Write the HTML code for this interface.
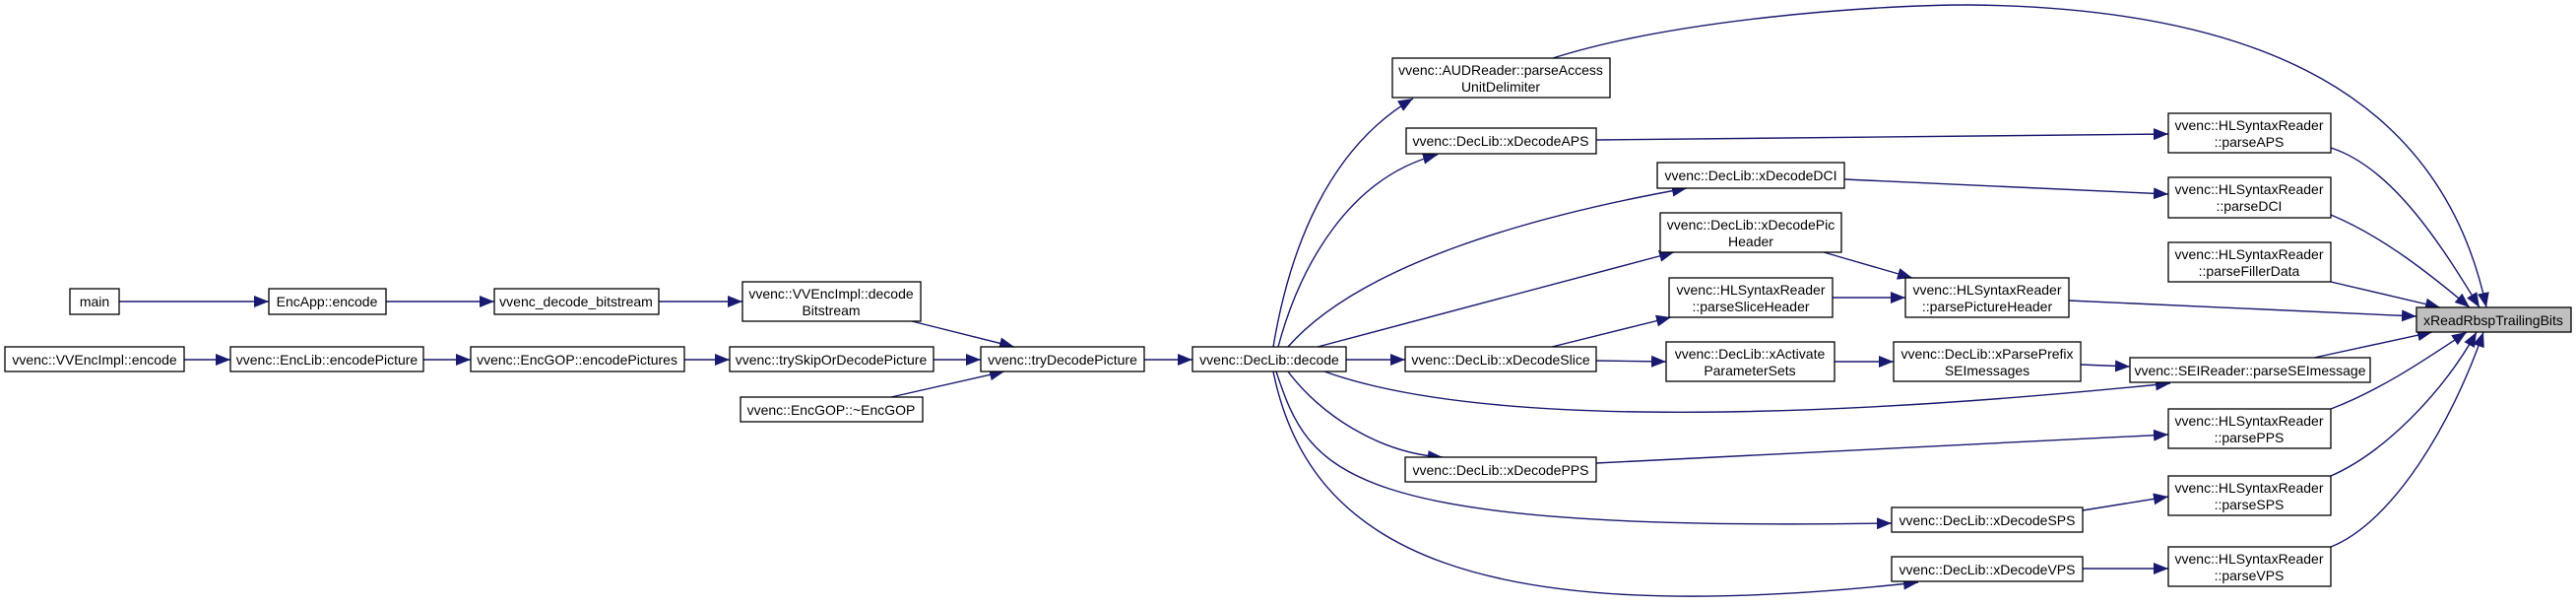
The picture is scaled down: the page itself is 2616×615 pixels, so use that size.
<!DOCTYPE html>
<html><head><meta charset="utf-8"><style>
html,body{margin:0;padding:0;background:#fff;}
svg{display:block;}
text{font-family:"Liberation Sans",Arial,sans-serif;font-size:14px;fill:#000;}
.b{fill:#fff;stroke:#000;stroke-width:1.3;}
.e{fill:none;stroke:#191970;stroke-width:1.4;}
</style></head><body>
<svg width="2616" height="615" viewBox="0 0 2616 615" xmlns="http://www.w3.org/2000/svg">
<defs>
<marker id="a" markerUnits="userSpaceOnUse" markerWidth="16" markerHeight="12" refX="15" refY="6" orient="auto">
<path d="M0,0 L15,6 L0,12 Z" fill="#191970"/>
</marker>
</defs>
<g class="e" marker-end="url(#a)">
<path d="M121,306 L273,306"/>
<path d="M392,306 L502,306"/>
<path d="M669,306 L754,306"/>
<path d="M187,365 L234,365"/>
<path d="M430,365 L478,365"/>
<path d="M695,365 L741,365"/>
<path d="M926,326 L1030,352"/>
<path d="M948,365 L996,365"/>
<path d="M905,403 L1020,377"/>
<path d="M1162,365 L1211,365"/>
<path d="M1367,365 L1427,365"/>
<path d="M1293,352 C1310,250 1350,150 1435,100"/>
<path d="M1298,352 C1320,270 1370,180 1460,157"/>
<path d="M1308,352 C1380,270 1550,220 1713,191"/>
<path d="M1338,352 L1700,256"/>
<path d="M1345,377 C1520,440 1900,420 2204,389"/>
<path d="M1308,377 C1340,420 1400,460 1465,464"/>
<path d="M1296,377 C1330,480 1360,540 1921,531"/>
<path d="M1293,377 C1330,560 1500,640 1948,591"/>
<path d="M1576,352 L1697,322"/>
<path d="M1621,366 L1692,367"/>
<path d="M1863,367 L1923,367"/>
<path d="M2113,370 L2163,372"/>
<path d="M1577,59 C1700,20 1900,5 2000,5 C2300,8 2480,100 2525,312"/>
<path d="M1621,142 L2202,136"/>
<path d="M1873,182 L2202,197"/>
<path d="M1852,256 L1942,282"/>
<path d="M1861,302 L1935,302"/>
<path d="M2101,305 L2454,321"/>
<path d="M2367,150 C2430,170 2480,250 2518,312"/>
<path d="M2367,218 C2420,240 2470,280 2508,312"/>
<path d="M2367,286 L2478,312"/>
<path d="M2350,363 L2470,337"/>
<path d="M2367,415 C2420,395 2470,360 2505,337"/>
<path d="M2367,483 C2420,460 2480,400 2515,337"/>
<path d="M2367,555 C2430,530 2490,430 2522,337"/>
<path d="M2115,518 L2202,504"/>
<path d="M2115,577 L2202,577"/>
<path d="M1621,470 L2202,441"/>
</g>
<g>
<rect class="b" x="71" y="293" width="50" height="26"/><text x="96" y="311" text-anchor="middle">main</text>
<rect class="b" x="273" y="293" width="119" height="26"/><text x="332" y="311" text-anchor="middle">EncApp::encode</text>
<rect class="b" x="502" y="293" width="167" height="26"/><text x="585" y="311" text-anchor="middle">vvenc_decode_bitstream</text>
<rect class="b" x="5" y="352" width="182" height="25"/><text x="96" y="370" text-anchor="middle">vvenc::VVEncImpl::encode</text>
<rect class="b" x="234" y="352" width="196" height="25"/><text x="332" y="370" text-anchor="middle">vvenc::EncLib::encodePicture</text>
<rect class="b" x="478" y="352" width="217" height="25"/><text x="586" y="370" text-anchor="middle">vvenc::EncGOP::encodePictures</text>
<rect class="b" x="754" y="286" width="181" height="40"/><text x="844" y="303" text-anchor="middle">vvenc::VVEncImpl::decode</text><text x="844" y="320" text-anchor="middle">Bitstream</text>
<rect class="b" x="741" y="352" width="207" height="25"/><text x="844" y="370" text-anchor="middle">vvenc::trySkipOrDecodePicture</text>
<rect class="b" x="752" y="403" width="185" height="25"/><text x="844" y="421" text-anchor="middle">vvenc::EncGOP::~EncGOP</text>
<rect class="b" x="996" y="352" width="166" height="25"/><text x="1079" y="370" text-anchor="middle">vvenc::tryDecodePicture</text>
<rect class="b" x="1211" y="352" width="156" height="25"/><text x="1289" y="370" text-anchor="middle">vvenc::DecLib::decode</text>
<rect class="b" x="1414" y="59" width="221" height="40"/><text x="1524" y="76" text-anchor="middle">vvenc::AUDReader::parseAccess</text><text x="1524" y="93" text-anchor="middle">UnitDelimiter</text>
<rect class="b" x="1428" y="130" width="193" height="26"/><text x="1524" y="148" text-anchor="middle">vvenc::DecLib::xDecodeAPS</text>
<rect class="b" x="1427" y="352" width="194" height="25"/><text x="1524" y="370" text-anchor="middle">vvenc::DecLib::xDecodeSlice</text>
<rect class="b" x="1427" y="464" width="194" height="25"/><text x="1524" y="482" text-anchor="middle">vvenc::DecLib::xDecodePPS</text>
<rect class="b" x="1683" y="165" width="190" height="26"/><text x="1778" y="183" text-anchor="middle">vvenc::DecLib::xDecodeDCI</text>
<rect class="b" x="1686" y="216" width="184" height="40"/><text x="1778" y="233" text-anchor="middle">vvenc::DecLib::xDecodePic</text><text x="1778" y="250" text-anchor="middle">Header</text>
<rect class="b" x="1695" y="282" width="166" height="40"/><text x="1778" y="299" text-anchor="middle">vvenc::HLSyntaxReader</text><text x="1778" y="316" text-anchor="middle">::parseSliceHeader</text>
<rect class="b" x="1692" y="347" width="171" height="40"/><text x="1777" y="364" text-anchor="middle">vvenc::DecLib::xActivate</text><text x="1777" y="381" text-anchor="middle">ParameterSets</text>
<rect class="b" x="1935" y="282" width="166" height="40"/><text x="2018" y="299" text-anchor="middle">vvenc::HLSyntaxReader</text><text x="2018" y="316" text-anchor="middle">::parsePictureHeader</text>
<rect class="b" x="1923" y="347" width="190" height="40"/><text x="2018" y="364" text-anchor="middle">vvenc::DecLib::xParsePrefix</text><text x="2018" y="381" text-anchor="middle">SEImessages</text>
<rect class="b" x="1921" y="515" width="194" height="25"/><text x="2018" y="533" text-anchor="middle">vvenc::DecLib::xDecodeSPS</text>
<rect class="b" x="1921" y="565" width="194" height="25"/><text x="2018" y="583" text-anchor="middle">vvenc::DecLib::xDecodeVPS</text>
<rect class="b" x="2163" y="363" width="244" height="25"/><text x="2285" y="381" text-anchor="middle">vvenc::SEIReader::parseSEImessage</text>
<rect class="b" x="2202" y="115" width="165" height="40"/><text x="2284" y="132" text-anchor="middle">vvenc::HLSyntaxReader</text><text x="2284" y="149" text-anchor="middle">::parseAPS</text>
<rect class="b" x="2202" y="180" width="165" height="41"/><text x="2284" y="197" text-anchor="middle">vvenc::HLSyntaxReader</text><text x="2284" y="214" text-anchor="middle">::parseDCI</text>
<rect class="b" x="2202" y="246" width="165" height="40"/><text x="2284" y="263" text-anchor="middle">vvenc::HLSyntaxReader</text><text x="2284" y="280" text-anchor="middle">::parseFillerData</text>
<rect class="b" x="2202" y="415" width="165" height="40"/><text x="2284" y="432" text-anchor="middle">vvenc::HLSyntaxReader</text><text x="2284" y="449" text-anchor="middle">::parsePPS</text>
<rect class="b" x="2202" y="483" width="165" height="40"/><text x="2284" y="500" text-anchor="middle">vvenc::HLSyntaxReader</text><text x="2284" y="517" text-anchor="middle">::parseSPS</text>
<rect class="b" x="2202" y="555" width="165" height="40"/><text x="2284" y="572" text-anchor="middle">vvenc::HLSyntaxReader</text><text x="2284" y="589" text-anchor="middle">::parseVPS</text>
<rect x="2454" y="312" width="157" height="25" fill="#bfbfbf" stroke="#000" stroke-width="1.3"/><text x="2532" y="330" text-anchor="middle">xReadRbspTrailingBits</text>
</g>
</svg>
</body></html>
